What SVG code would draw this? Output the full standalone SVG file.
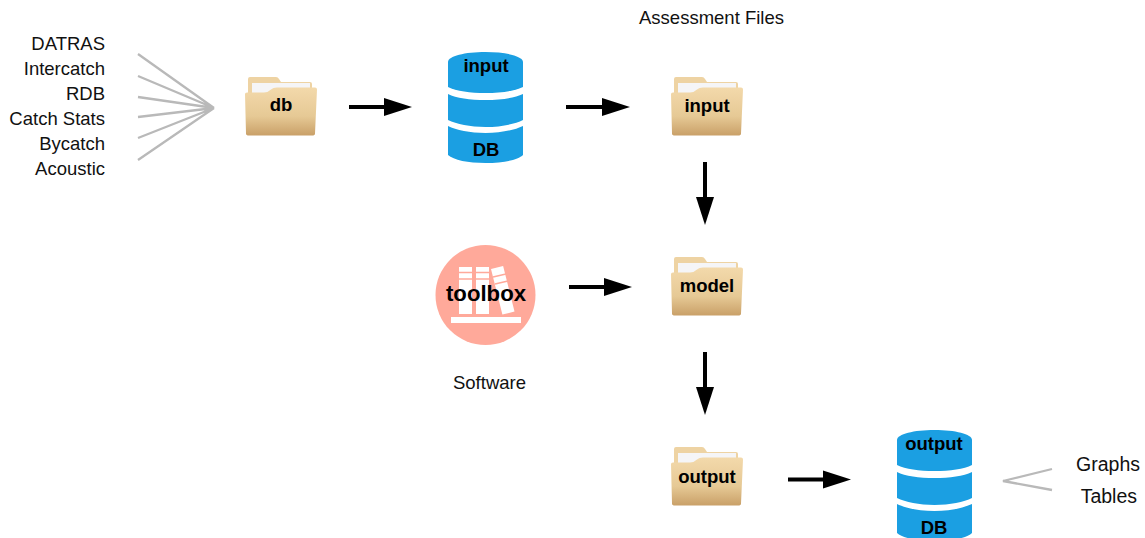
<svg xmlns="http://www.w3.org/2000/svg" width="1145" height="538" viewBox="0 0 1145 538">
<style>
text{font-family:"Liberation Sans",Arial,sans-serif;fill:#111}
.t{font-size:18.500px}
.r{font-size:19.500px}
.e{text-anchor:end}
.m{text-anchor:middle}
.b{font-size:18.500px;font-weight:bold;text-anchor:middle;fill:#000}
.g{stroke:#b9b9b9;stroke-width:2.300;fill:none}
.a{stroke:#000;stroke-width:4;fill:none}
.h{fill:#000}
.c{fill:#1b9fe2}
.w{fill:#fff}
</style>
<defs>
<linearGradient id="fg" x1="0" y1="0" x2="0" y2="1">
<stop offset="0" stop-color="#f3d9ab"/><stop offset="0.6" stop-color="#e6c995"/><stop offset="1" stop-color="#c9a068"/>
</linearGradient>
<g id="folder">
<path d="M248 79q0-2 2-2h26q2 0 3 2l2 3h29q2 0 2 2v12h-64z" fill="#eed3a3"/>
<path d="M252 83h58v15h-58z" fill="#f5f5f7"/>
<path d="M245 94q0-1.500 2-1.500h17q4 0 7-3q2-2 6-2h38q2 0 2 2l-2 44q0 2-3 2h-63q-3 0-3-2z" fill="url(#fg)"/>
</g>
<g id="db">
<path class="c" d="M448 62c0-6 17-10 37.500-10s37.500 4 37.500 10v25c-8 4-22 6-37.500 6s-29-2-37.500-6z"/>
<path class="c" d="M448 94c8 4 22 6 37.500 6s29-2 37.500-6v26c-8 4-22 7-37.500 7s-29-3-37.500-7z"/>
<path class="c" d="M448 126c8 4 22 7 37.500 7s29-3 37.500-7v29c-5 5-20 8-37.500 8s-32-3-37.500-8z"/>
</g>
</defs>
<g id="connectors">
<path class="g" d="M138 54L214 108M138 76L214 108M138 97L214 108M138 117L214 108M138 138L214 108M138 160L214 108"/>
<path class="g" d="M1052 469L1003 481L1052 490"/>
<path class="a" d="M349 107H386"/><path class="h" d="M384 98L412 107L384 116z"/>
<path class="a" d="M566 107H604"/><path class="h" d="M602 98L630 107L602 116z"/>
<path class="a" d="M705 162V199"/><path class="h" d="M696 197L705 225L714 197z"/>
<path class="a" d="M569 287H606"/><path class="h" d="M604 278L632 287L604 296z"/>
<path class="a" d="M705 352V389"/><path class="h" d="M696 387L705 415L714 387z"/>
<path class="a" d="M788 479.500H825"/><path class="h" d="M823 470.500L851 479.500L823 488.500z"/>
</g>
<g id="sources">
<text class="t e" x="105" y="50">DATRAS</text>
<text class="t e" x="105" y="75">Intercatch</text>
<text class="t e" x="105" y="100">RDB</text>
<text class="t e" x="105" y="125">Catch Stats</text>
<text class="t e" x="105" y="150">Bycatch</text>
<text class="t e" x="105" y="175">Acoustic</text>
</g>
<g id="node-db"><use href="#folder"/><text class="b" x="281" y="111">db</text></g>
<g id="node-input-db"><use href="#db"/><text class="b" x="486" y="72">input</text><text class="b" x="486" y="156">DB</text></g>
<g id="node-input"><use href="#folder" x="426"/><text class="b" x="707" y="112">input</text></g>
<text class="t m" x="711.500" y="24">Assessment Files</text>
<g id="node-toolbox">
<circle cx="485.500" cy="295" r="50" fill="#ffa99a"/>
<rect class="w" x="459" y="267" width="13" height="47"/>
<rect class="w" x="476" y="267" width="13" height="47"/>
<rect class="w" x="0" y="0" width="12.500" height="47" transform="translate(491 269) rotate(-14)"/>
<rect class="w" x="451" y="317" width="70" height="6"/>
<path d="M459 272.500h13M476 272.500h13M459 279h13M476 279h13M493 277l13-3M495 284l13-3" stroke="#ffa99a" stroke-width="1.500" fill="none"/>
<text x="486" y="301" text-anchor="middle" style="font-size:22.200px;font-weight:bold;fill:#000">toolbox</text>
</g>
<text class="t m" x="489.500" y="389">Software</text>
<g id="node-model"><use href="#folder" x="426" y="180"/><text class="b" x="707" y="292">model</text></g>
<g id="node-output"><use href="#folder" x="426" y="370"/><text class="b" x="707" y="483">output</text></g>
<g id="node-output-db"><use href="#db" x="449" y="378"/><text class="b" x="934" y="450">output</text><text class="b" x="934" y="534">DB</text></g>
<g id="results">
<text class="r e" x="1140" y="471">Graphs</text>
<text class="r e" x="1137" y="503">Tables</text>
</g>
</svg>
